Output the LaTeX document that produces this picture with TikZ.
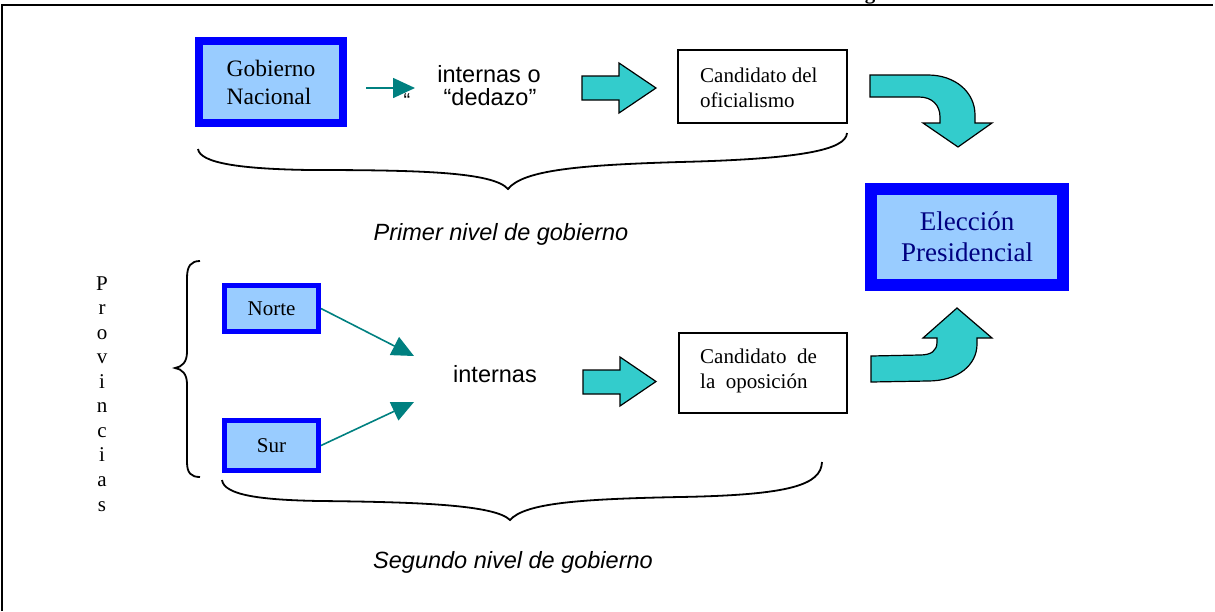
\documentclass[tikz,border=0pt]{standalone}
\usepackage{fontspec}
\setmainfont{Liberation Serif}
\newfontfamily\arialfont{Liberation Sans}
\usetikzlibrary{arrows.meta}
\definecolor{boxblue}{HTML}{0000FF}
\definecolor{lightfill}{HTML}{99CCFF}
\definecolor{tealc}{HTML}{008080}
\definecolor{arrowc}{HTML}{33CCCC}
\definecolor{navyc}{HTML}{000080}
\tikzset{
  bluebox/.style={draw=boxblue, fill=lightfill, rectangle, inner sep=0pt, align=left},
  plainbox/.style={draw=black, line width=1.3pt, rectangle, inner sep=0pt},
  tealarrow/.style={draw=tealc, line width=1.6pt, -{Triangle[length=22pt,width=20pt]}},
  blockarrow/.style={fill=arrowc, draw=black, line width=1.2pt, line join=miter},
  bracestyle/.style={draw=black, line width=1.8pt},
  sanstext/.style={font=\arialfont\fontsize{23.5}{26}\selectfont, inner sep=0pt},
  sansital/.style={font=\arialfont\itshape\fontsize{23.5}{26}\selectfont, inner sep=0pt},
  serifsmall/.style={font=\fontsize{21}{25}\selectfont, inner sep=0pt},
  provtext/.style={font=\fontsize{21}{24}\selectfont, inner sep=0pt}
}
\begin{document}
\begin{tikzpicture}[x=1pt,y=-1pt]
\useasboundingbox (0,0) rectangle (1215,611);
% frame
\draw[line width=2.4pt] (2,611) -- (2,5) -- (1213,5);
\node[font=\bfseries\fontsize{21}{25}\selectfont, inner sep=0pt, anchor=base] (gcut) at (870,-1) {g};

% top row
\node[bluebox, line width=8pt, minimum width=144pt, minimum height=82pt,
      font=\fontsize{23.5}{28}\selectfont] (gob) at (271,82) {Gobierno\\Nacional};
\node[font=\arialfont\fontsize{20}{24}\selectfont, inner sep=0pt, anchor=base] (quote) at (407,107) {“};
\coordinate (a1tip) at (415,88);
\draw[tealarrow, shorten <=19pt] (gob.east |- a1tip) -- (a1tip);
\node[sanstext, anchor=base] (int1) at (489,82.5) {internas o};
\node[sanstext, anchor=base] (int2) at (490,105) {“dedazo”};
\draw[blockarrow] (582,76) -- (619,76) -- (619,63) -- (656,88) -- (619,113) -- (619,100) -- (582,100) -- cycle;
\node[plainbox, minimum width=169pt, minimum height=73pt] (cand1) at (762.5,86.5) {};
\node[serifsmall, anchor=base west] (c1a) at (700,82) {Candidato del};
\node[serifsmall, anchor=base west] (c1b) at (700,107) {oficialismo};
% bent arrow down
\draw[blockarrow] (870,75) -- (928,75) .. controls (955,75) and (975,92) .. (975,115) -- (975,123)
  -- (992,123) -- (958,147) -- (923,123) -- (940,123) -- (940,117)
  .. controls (940,105) and (932,97) .. (919,97) -- (870,97) -- cycle;

% top brace
\draw[bracestyle] (198,149) .. controls (200,163) and (240,169) .. (310,170)
  .. controls (420,170) and (493,172) .. (508,189)
  .. controls (523,170) and (580,165) .. (680,162)
  .. controls (800,159) and (846,150) .. (847,133);
\node[sansital, anchor=base] (lab1) at (501,240) {Primer nivel de gobierno};

% election box
\node[bluebox, line width=11.5pt, minimum width=192pt, minimum height=96pt, align=center,
      text=navyc, font=\fontsize{27}{31}\selectfont] (elec) at (967,237) {Elección\\Presidencial};

% provinces
\foreach \l [count=\i from 0] in {P,r,o,v,i,n,c,i,a,s}
  \node[provtext, anchor=base] (prov\i) at (102,{290+24.56*\i}) {\l};
\draw[bracestyle] (200,261) .. controls (191,261) and (187,266) .. (187,278) -- (187,352)
  .. controls (187,362) and (182,367) .. (175,368)
  .. controls (182,369) and (187,374) .. (187,384) -- (187,462)
  .. controls (187,473) and (191,477) .. (200,477);

\node[bluebox, line width=5pt, minimum width=94pt, minimum height=46pt,
      font=\fontsize{21}{24}\selectfont] (norte) at (271.5,308.5) {Norte};
\node[bluebox, line width=5pt, minimum width=94pt, minimum height=50pt,
      font=\fontsize{21}{24}\selectfont] (sur) at (271.5,445.5) {Sur};
\coordinate (ntip) at (414,356);
\coordinate (stip) at (414,402);
\draw[tealarrow] (norte.east) -- (ntip);
\draw[tealarrow] (sur.east) -- (stip);
\node[sanstext, anchor=base] (int3) at (495,382) {internas};
\draw[blockarrow] (583,370) -- (620,370) -- (620,357) -- (656,381.5) -- (620,406) -- (620,394) -- (583,394) -- cycle;
\node[plainbox, minimum width=168pt, minimum height=80pt] (cand2) at (763,373) {};
\node[serifsmall, anchor=base west] (c2a) at (700,363) {Candidato\hspace{0.5em}de};
\node[serifsmall, anchor=base west] (c2b) at (700,388) {la\hspace{0.5em}oposición};
% bent arrow up
\draw[blockarrow] (871,382) -- (928,381) .. controls (958,381) and (977,365) .. (977,344) -- (977,338)
  -- (992,338) -- (957,308) -- (923,338) -- (937,338) -- (937,342)
  .. controls (937,351) and (931,355) .. (920,355) -- (871,356) -- cycle;

% bottom brace
\draw[bracestyle] (222,480) .. controls (224,495) and (260,500) .. (320,501)
  .. controls (420,502) and (495,505) .. (510,520)
  .. controls (525,503) and (580,499) .. (680,497)
  .. controls (790,495) and (821,485) .. (822,462);
\node[sansital, anchor=base] (lab2) at (513,568) {Segundo nivel de gobierno};
\end{tikzpicture}
\end{document}
